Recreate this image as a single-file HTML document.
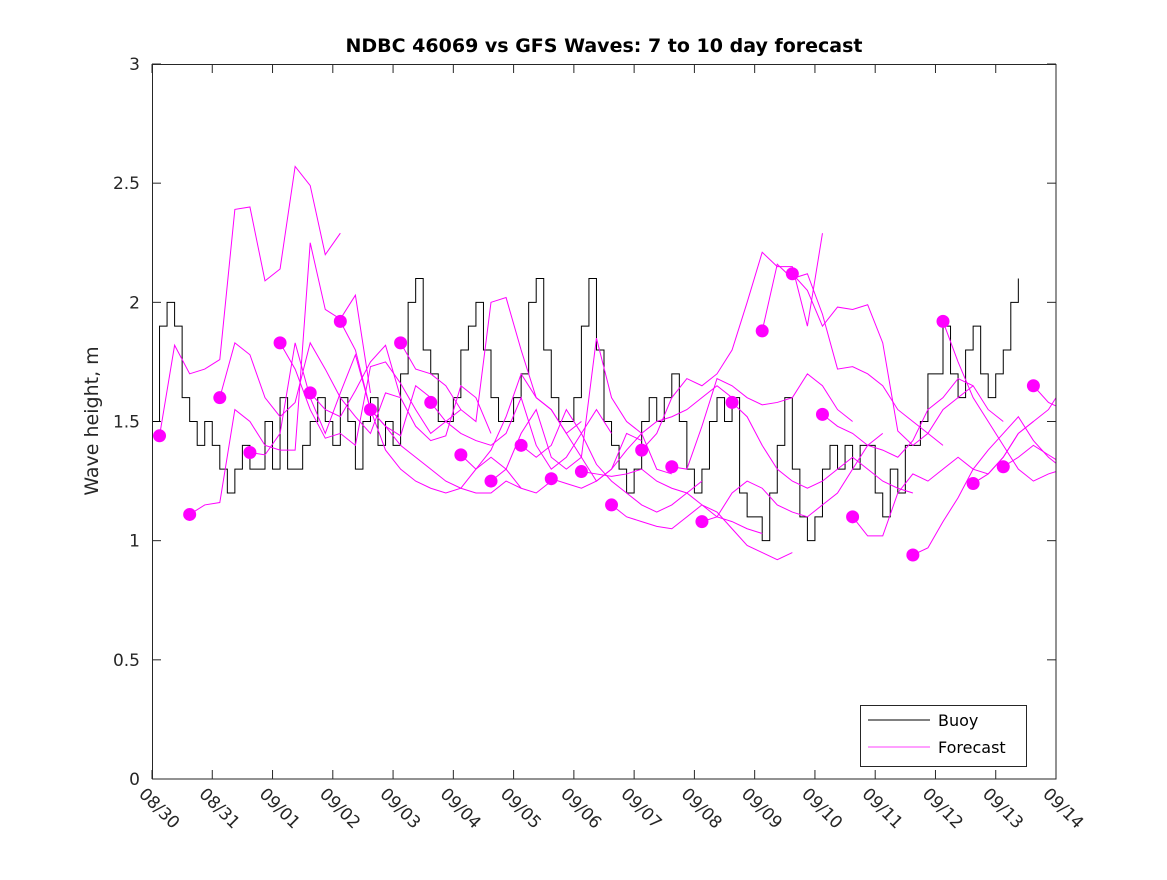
<!DOCTYPE html>
<html><head><meta charset="utf-8"><style>
body{margin:0;background:#fff;}
svg text{font-family:"DejaVu Sans","Liberation Sans",sans-serif;}
</style></head><body>
<svg id="chart" width="1167" height="875" xmlns="http://www.w3.org/2000/svg">
<rect width="1167" height="875" fill="#fff"/>
<text x="604" y="52" text-anchor="middle" font-size="19" font-weight="bold" fill="#000">NDBC 46069 vs GFS Waves: 7 to 10 day forecast</text>
<text transform="translate(98,421) rotate(-90)" text-anchor="middle" font-size="19" fill="#262626">Wave height, m</text>
<defs><clipPath id="pc"><rect x="152" y="64" width="904" height="715"/></clipPath></defs>
<g id="ticks"></g>
<g id="plot" clip-path="url(#pc)"></g>
<rect x="152.5" y="64.5" width="903.5" height="714.5" fill="none" stroke="#262626" stroke-width="1"/>
<g>
<rect x="860.5" y="705.5" width="166" height="61" fill="#fff" stroke="#262626"/>
<line x1="868" y1="720" x2="930" y2="720" stroke="#000"/>
<text x="938" y="726" font-size="16" fill="#000">Buoy</text>
<line x1="868" y1="747" x2="930" y2="747" stroke="#f0f" stroke-width="0.8"/>
<text x="938" y="753" font-size="16" fill="#000">Forecast</text>
</g>
</svg>
<script>
const yTicks=[0,0.5,1,1.5,2,2.5,3];
const yTickLabels=["0","0.5","1","1.5","2","2.5","3"];
const xTickLabels=["08/30","08/31","09/01","09/02","09/03","09/04","09/05","09/06","09/07","09/08","09/09","09/10","09/11","09/12","09/13","09/14"];
const buoy=[1.5,1.9,2.0,1.9,1.6,1.5,1.4,1.5, 1.4,1.3,1.2,1.3,1.4,1.3,1.3,1.5, 1.3,1.6,1.3,1.3,1.4,1.5,1.6,1.5, 1.4,1.6,1.5,1.3,1.5,1.6,1.4,1.5, 1.4,1.7,2.0,2.1,1.8,1.7,1.5,1.5, 1.6,1.8,1.9,2.0,1.8,1.6,1.5,1.5, 1.6,1.7,2.0,2.1,1.8,1.6,1.5,1.5, 1.6,1.9,2.1,1.8,1.5,1.4,1.3,1.2, 1.3,1.5,1.6,1.5,1.6,1.7,1.5,1.3, 1.2,1.3,1.5,1.6,1.5,1.6,1.2,1.1, 1.1,1.0,1.2,1.4,1.6,1.3,1.1,1.0, 1.1,1.3,1.4,1.3,1.4,1.3,1.4,1.4, 1.2,1.1,1.3,1.2,1.4,1.4,1.5,1.7, 1.7,1.9,1.7,1.6,1.8,1.9,1.7,1.6, 1.7,1.8,2.0,2.1];
const fcStarts=[0.125,0.625,1.125,1.625,2.125,2.625,3.125,3.625,4.125,4.625,5.125,5.625,6.125,6.625,7.125,7.625,8.125,8.625,9.125,9.625,10.125,10.625,11.125,11.625,12.625,13.125,13.625,14.125,14.625];
const fc0=[1.44,1.82,1.70,1.72,1.76,2.39,2.40,2.09,2.14,2.57,2.49,2.20,2.29];
const fc1=[1.11,1.15,1.16,1.55,1.50,1.40,1.38,1.38,2.25,1.97,1.93,2.03,1.62];
const fc2=[1.60,1.83,1.78,1.60,1.52,1.58,1.83,1.72,1.60,1.52,1.45,1.62,1.60];
const fc3=[1.37,1.36,1.45,1.83,1.60,1.45,1.62,1.78,1.55,1.48,1.44,1.65,1.60];
const fc4=[1.83,1.72,1.55,1.43,1.45,1.40,1.73,1.75,1.66,1.55,1.45,1.50,1.55];
const fc5=[1.62,1.55,1.52,1.63,1.75,1.82,1.60,1.48,1.42,1.44,1.65,1.60,1.45];
const fc6=[1.92,1.80,1.55,1.38,1.30,1.25,1.22,1.20,1.22,1.30,1.35,1.30,1.22];
const fc7=[1.55,1.48,1.40,1.35,1.30,1.25,1.22,1.20,1.20,1.25,1.22,1.20,1.25];
const fc8=[1.83,1.72,1.70,1.65,1.55,1.50,2.00,2.02,1.80,1.60,1.55,1.45,1.50];
const fc9=[1.58,1.50,1.45,1.42,1.40,1.45,1.60,1.40,1.30,1.35,1.45,1.55,1.45];
const fc10=[1.36,1.30,1.38,1.52,1.70,1.60,1.55,1.45,1.35,1.25,1.30,1.45,1.42];
const fc11=[1.25,1.30,1.45,1.55,1.35,1.30,1.35,1.85,1.60,1.50,1.45,1.30,1.28];
const fc12=[1.40,1.35,1.40,1.55,1.45,1.32,1.25,1.20,1.15,1.12,1.15,1.20,1.25];
const fc13=[1.26,1.24,1.22,1.25,1.30,1.38,1.45,1.50,1.52,1.55,1.60,1.65,1.60];
const fc14=[1.29,1.28,1.27,1.28,1.30,1.25,1.22,1.20,1.15,1.10,1.08,1.05,1.03];
const fc15=[1.15,1.10,1.08,1.06,1.05,1.10,1.15,1.12,1.05,0.98,0.95,0.92,0.95];
const fc16=[1.38,1.45,1.60,1.68,1.65,1.70,1.80,2.00,2.21,2.15,2.15,1.90,2.29];
const fc17=[1.31,1.30,1.48,1.68,1.65,1.60,1.57,1.58,1.60,1.70,1.65,1.55,1.50];
const fc18=[1.08,1.10,1.20,1.25,1.22,1.15,1.12,1.10,1.15,1.20,1.30,1.40,1.45];
const fc19=[1.58,1.52,1.40,1.30,1.25,1.22,1.25,1.30,1.35,1.30,1.25,1.22,1.20];
const fc20=[1.88,2.16,2.10,2.12,1.95,1.72,1.73,1.70,1.65,1.55,1.50,1.45,1.40];
const fc21=[2.12,2.05,1.90,1.98,1.97,1.99,1.83,1.46,1.40,1.45,1.55,1.60,1.65];
const fc22=[1.53,1.48,1.45,1.40,1.38,1.35,1.42,1.55,1.60,1.68,1.65,1.55,1.50];
const fc23=[1.10,1.02,1.02,1.20,1.28,1.25,1.30,1.35,1.30,1.28,1.35,1.45,1.50];
const fc24=[0.94,0.97,1.08,1.18,1.30,1.38,1.45,1.52,1.42,1.35,1.30,1.25,1.30];
const fc25=[1.92,1.75,1.60,1.50,1.40,1.30,1.25,1.28,1.30,1.35,1.40,1.30,1.20];
const fc26=[1.24,1.28,1.35,1.45,1.50,1.55,1.65,1.70,1.72,1.80,1.87,1.80,1.75];
const fc27=[1.31,1.35,1.40,1.36,1.32,1.33,1.35,1.40,1.38,1.30,1.28,1.30,1.28];
const fc28=[1.65,1.58,1.55,1.62,1.75,1.88,1.80,1.70,1.60,1.55,1.50,1.45,1.40];
const forecasts=[fc0,fc1,fc2,fc3,fc4,fc5,fc6,fc7,fc8,fc9,fc10,fc11,fc12,fc13,fc14,fc15,fc16,fc17,fc18,fc19,fc20,fc21,fc22,fc23,fc24,fc25,fc26,fc27,fc28];

const NS="http://www.w3.org/2000/svg";
const X0=152,X1=1056,Y0=779,Y1=64;
const xs=d=>X0+(X1-X0)*d/15;
const ys=v=>Y0-(Y0-Y1)*v/3;
const plot=document.getElementById('plot'),tk=document.getElementById('ticks');
function mk(t,a,p){const e=document.createElementNS(NS,t);for(const k in a)e.setAttribute(k,a[k]);p.appendChild(e);return e;}
yTicks.forEach((v,i)=>{
  const y=ys(v);
  mk('line',{x1:X0,y1:y,x2:X0+9,y2:y,stroke:'#262626'},tk);
  mk('line',{x1:X1-9,y1:y,x2:X1,y2:y,stroke:'#262626'},tk);
  const t=mk('text',{x:X0-12,y:y+6,'text-anchor':'end','font-size':'17',fill:'#262626'},tk);
  
  
  t.textContent=yTickLabels[i];
});
xTickLabels.forEach((l,i)=>{
  const x=xs(i);
  mk('line',{x1:x,y1:Y0,x2:x,y2:Y0-9,stroke:'#262626'},tk);
  mk('line',{x1:x,y1:Y1,x2:x,y2:Y1+9,stroke:'#262626'},tk);
  const t=mk('text',{transform:`translate(${x-14},${Y0+16}) rotate(45)`,'font-size':'17',fill:'#262626'},tk);
  
  
  t.textContent=l;
});
let d='';
buoy.forEach((v,i)=>{const x=xs(i*0.125),y=ys(v);d+=(i?`H${x}V${y}`:`M${x} ${y}`);});
const bl=mk('path',{d:d,fill:'none',stroke:'#000','stroke-width':'1'},plot);


forecasts.forEach((arr,k)=>{
  const pts=arr.map((v,j)=>`${xs(fcStarts[k]+j*0.25)},${ys(v)}`).join(' ');
  const pl=mk('polyline',{points:pts,fill:'none',stroke:'#f0f','stroke-width':'1'},plot);
  
  
});
forecasts.forEach((arr,k)=>{
  const c=mk('circle',{cx:xs(fcStarts[k]),cy:ys(arr[0]),r:6.5,fill:'#f0f'},plot);
  
  
});
</script>
</body></html>
